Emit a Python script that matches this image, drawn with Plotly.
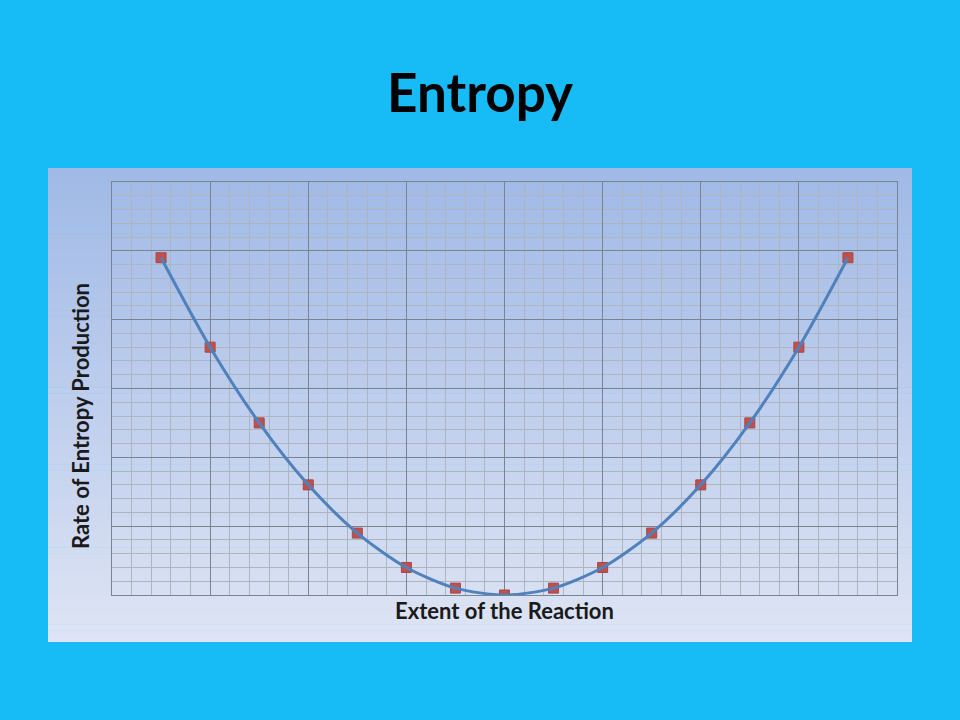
import plotly.graph_objects as go

# Data
extent = [1, 2, 3, 4, 5, 6, 7, 8, 9, 10, 11, 12, 13, 14, 15]
rate = [49, 36, 25, 16, 9, 4, 1, 0, 1, 4, 9, 16, 25, 36, 49]
x_range = [0, 16]
y_range = [0, 60]

W, H = 960, 720
L, R, T, B = 112, 63, 182, 125
pw, ph = W - L - R, H - T - B

def px_to_paper_x(px):
    return (px - L) / pw

def px_to_paper_y(py):
    return (H - B - py) / ph

fig = go.Figure()

# markers first, line on top
fig.add_trace(go.Scatter(
    x=extent, y=rate, mode="markers",
    marker=dict(symbol="square", size=10, color="#C0504D",
                line=dict(color="#A94643", width=1)),
    showlegend=False, hoverinfo="skip"))
fig.add_trace(go.Scatter(
    x=extent, y=rate, mode="lines",
    line=dict(color="#4F81BD", width=3, shape="spline", smoothing=0.8),
    showlegend=False))

# gradient panel as stacked bands
shapes = []
n = 80
top_c = (160, 185, 230)
bot_c = (222, 228, 244)
y0p, y1p = 168, 642
for i in range(n):
    a = y0p + (y1p - y0p) * i / n
    b = y0p + (y1p - y0p) * (i + 1) / n + 0.6
    t = (i + 0.5) / n
    c = tuple(round(top_c[k] + (bot_c[k] - top_c[k]) * t) for k in range(3))
    shapes.append(dict(type="rect", xref="paper", yref="paper",
                       x0=px_to_paper_x(48), x1=px_to_paper_x(912),
                       y0=px_to_paper_y(min(b, y1p)), y1=px_to_paper_y(a),
                       fillcolor="rgb(%d,%d,%d)" % c, line=dict(width=0),
                       layer="below"))

minor_x = [round(i * 0.4, 4) for i in range(1, 40) if i % 5]
minor_y = [i * 2 for i in range(1, 30) if i % 5]

fig.update_layout(
    width=W, height=H,
    margin=dict(l=L, r=R, t=T, b=B, pad=0),
    paper_bgcolor="#17BBF5",
    plot_bgcolor="rgba(0,0,0,0)",
    shapes=shapes,
    title=dict(text="<b>Entropy</b>", x=0.5, xanchor="center",
               y=1 - 93 / H, yanchor="middle",
               font=dict(family="Lato, 'Open Sans', sans-serif", size=53, color="black")),
    font=dict(family="Lato, 'Open Sans', sans-serif", color="#1a1a1a"),
    annotations=[dict(text="<b>Rate of Entropy Production</b>", textangle=-90,
                      xref="paper", yref="paper", x=px_to_paper_x(80), y=px_to_paper_y(416),
                      xanchor="center", yanchor="middle", showarrow=False,
                      font=dict(size=22, color="#1a1a1a"))],
)

fig.update_xaxes(
    range=x_range, dtick=2, showticklabels=False, ticks="",
    showgrid=True, gridcolor="#7A848F", gridwidth=1,
    minor=dict(tickvals=minor_x, showgrid=True, gridcolor="#AEB5BF", gridwidth=1, ticks=""),
    showline=True, linecolor="#7A848F", linewidth=1, mirror=True, zeroline=False,
    title=dict(text="<b>Extent of the Reaction</b>", standoff=8,
               font=dict(size=22, color="#1a1a1a")),
)
fig.update_yaxes(
    range=y_range, dtick=10, showticklabels=False, ticks="",
    showgrid=True, gridcolor="#7A848F", gridwidth=1,
    minor=dict(tickvals=minor_y, showgrid=True, gridcolor="#AEB5BF", gridwidth=1, ticks=""),
    showline=True, linecolor="#7A848F", linewidth=1, mirror=True, zeroline=False,
)

fig.write_html("out.html", config={"displayModeBar": False},
               post_script="document.body.style.margin='0';")
